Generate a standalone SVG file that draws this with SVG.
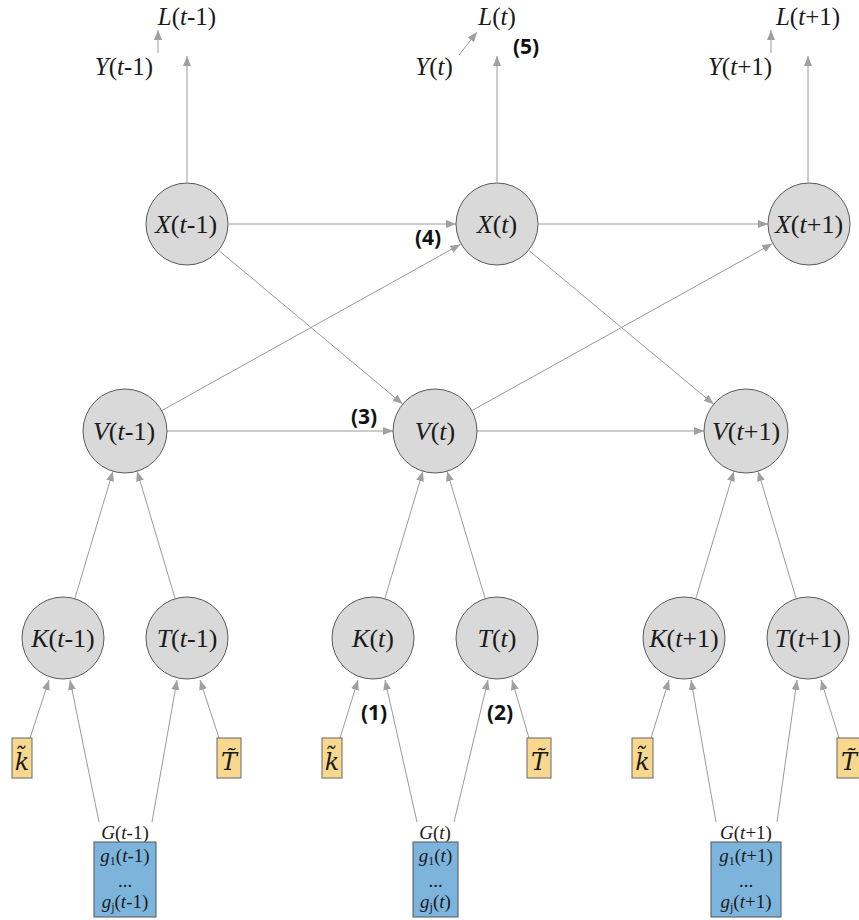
<svg xmlns="http://www.w3.org/2000/svg" width="859" height="920" viewBox="0 0 859 920">
<style>
.c{fill:#d9d9d9;stroke:#5a5a5a;stroke-width:1}
.m{font-family:"Liberation Serif","DejaVu Serif","Times New Roman",serif;font-size:26px;fill:#1a1a1a;text-anchor:middle}
.s{font-family:"Liberation Serif","DejaVu Serif","Times New Roman",serif;font-size:19px;fill:#1a1a1a;text-anchor:middle}
.sub{font-size:12px;font-style:normal}
.i{font-style:italic}
.e{stroke:#9a9a9a;stroke-width:1;fill:none;marker-end:url(#a)}
.kb{fill:#f8d88f;stroke:#666;stroke-width:1}
.gb{fill:#7db4dc;stroke:#555;stroke-width:1}
.n{font-family:"Open Sans","Liberation Sans",sans-serif;font-weight:bold;font-size:21px;fill:#111;text-anchor:middle}
.tl{font-family:"Liberation Serif","DejaVu Serif","Times New Roman",serif;font-size:25px;fill:#1a1a1a;text-anchor:middle}
.td{font-family:"DejaVu Serif","Liberation Serif",serif;font-size:24px;font-style:italic;fill:#1a1a1a;text-anchor:middle}
</style>
<defs>
<marker id="a" markerUnits="userSpaceOnUse" markerWidth="10" markerHeight="8" refX="10" refY="4" orient="auto">
<path d="M0,0 L10,4 L0,8 z" fill="#a0a0a0"/>
</marker>
</defs>

<g id="connectors">
<line class="e" x1="187" y1="182" x2="187" y2="56"/>
<line class="e" x1="497" y1="182" x2="497" y2="56"/>
<line class="e" x1="808" y1="182" x2="808" y2="56"/>
<line class="e" x1="158" y1="53" x2="158" y2="30"/>
<line class="e" x1="459" y1="55" x2="477" y2="32"/>
<line class="e" x1="771" y1="53" x2="771" y2="30"/>
<line class="e" x1="229" y1="224" x2="456" y2="224"/>
<line class="e" x1="539" y1="224" x2="768" y2="224"/>
<line class="e" x1="219.3" y1="250.9" x2="402.7" y2="404.1"/>
<line class="e" x1="529.3" y1="250.8" x2="713.7" y2="404.2"/>
<line class="e" x1="161.7" y1="410.6" x2="460.3" y2="244.4"/>
<line class="e" x1="471.7" y1="410.7" x2="772.3" y2="243.7"/>
<line class="e" x1="167" y1="431" x2="393" y2="431"/>
<line class="e" x1="477" y1="431" x2="704" y2="431"/>
<line class="e" x1="74.8" y1="598.7" x2="112.9" y2="471.2"/>
<line class="e" x1="175.2" y1="598.7" x2="137.1" y2="471.2"/>
<line class="e" x1="384.8" y1="598.7" x2="422.9" y2="471.2"/>
<line class="e" x1="485.2" y1="598.7" x2="447.1" y2="471.2"/>
<line class="e" x1="695.8" y1="598.7" x2="733.9" y2="471.2"/>
<line class="e" x1="796.2" y1="598.7" x2="758.1" y2="471.2"/>
<line class="e" x1="30" y1="738" x2="49" y2="680"/>
<line class="e" x1="99" y1="822" x2="70" y2="680"/>
<line class="e" x1="152" y1="822" x2="177" y2="680"/>
<line class="e" x1="219" y1="738" x2="200" y2="680"/>
<line class="e" x1="340" y1="738" x2="358" y2="680"/>
<line class="e" x1="417" y1="822" x2="385" y2="680"/>
<line class="e" x1="454" y1="822" x2="488" y2="680"/>
<line class="e" x1="529" y1="738" x2="512" y2="680"/>
<line class="e" x1="651" y1="738" x2="669" y2="680"/>
<line class="e" x1="716" y1="822" x2="691" y2="680"/>
<line class="e" x1="777" y1="822" x2="797" y2="680"/>
<line class="e" x1="839" y1="738" x2="821" y2="680"/>
</g>

<g id="top-labels">
<text class="tl" x="124" y="75"><tspan class="i">Y</tspan>(<tspan class="i">t</tspan>-1)</text>
<text class="tl" x="187" y="25"><tspan class="i">L</tspan>(<tspan class="i">t</tspan>-1)</text>
<text class="tl" x="434" y="75"><tspan class="i">Y</tspan>(<tspan class="i">t</tspan>)</text>
<text class="tl" x="497" y="25"><tspan class="i">L</tspan>(<tspan class="i">t</tspan>)</text>
<text class="tl" x="740" y="75"><tspan class="i">Y</tspan>(<tspan class="i">t</tspan>+1)</text>
<text class="tl" x="808" y="25"><tspan class="i">L</tspan>(<tspan class="i">t</tspan>+1)</text>
</g>

<g id="X-t-1"><circle class="c" cx="187" cy="224" r="41"/><text class="m" x="186" y="233"><tspan class="i">X</tspan>(<tspan class="i">t</tspan>-1)</text></g>
<g id="X-t"><circle class="c" cx="497" cy="224" r="41"/><text class="m" x="497" y="233"><tspan class="i">X</tspan>(<tspan class="i">t</tspan>)</text></g>
<g id="X-t+1"><circle class="c" cx="809" cy="224" r="41"/><text class="m" x="809" y="233"><tspan class="i">X</tspan>(<tspan class="i">t</tspan>+1)</text></g>

<g id="V-t-1"><circle class="c" cx="125" cy="431" r="42"/><text class="m" x="124" y="440"><tspan class="i">V</tspan>(<tspan class="i">t</tspan>-1)</text></g>
<g id="V-t"><circle class="c" cx="435" cy="431" r="42"/><text class="m" x="435" y="440"><tspan class="i">V</tspan>(<tspan class="i">t</tspan>)</text></g>
<g id="V-t+1"><circle class="c" cx="746" cy="431" r="42"/><text class="m" x="746" y="440"><tspan class="i">V</tspan>(<tspan class="i">t</tspan>+1)</text></g>

<g id="K-t-1"><circle class="c" cx="63" cy="638" r="41"/><text class="m" x="63" y="647"><tspan class="i">K</tspan>(<tspan class="i">t</tspan>-1)</text></g>
<g id="T-t-1"><circle class="c" cx="187" cy="638" r="41"/><text class="m" x="187" y="647"><tspan class="i">T</tspan>(<tspan class="i">t</tspan>-1)</text></g>
<g id="K-t"><circle class="c" cx="373" cy="638" r="41"/><text class="m" x="373" y="647"><tspan class="i">K</tspan>(<tspan class="i">t</tspan>)</text></g>
<g id="T-t"><circle class="c" cx="497" cy="638" r="41"/><text class="m" x="497" y="647"><tspan class="i">T</tspan>(<tspan class="i">t</tspan>)</text></g>
<g id="K-t+1"><circle class="c" cx="684" cy="638" r="41"/><text class="m" x="684" y="647"><tspan class="i">K</tspan>(<tspan class="i">t</tspan>+1)</text></g>
<g id="T-t+1"><circle class="c" cx="808" cy="638" r="41"/><text class="m" x="808" y="647"><tspan class="i">T</tspan>(<tspan class="i">t</tspan>+1)</text></g>

<g id="ktilde-t-1"><rect class="kb" x="12" y="738" width="20" height="40"/><text class="td" x="22" y="770">k&#771;</text></g>
<g id="Ttilde-t-1"><rect class="kb" x="217" y="738" width="24" height="40"/><text class="td" x="229" y="770">T&#771;</text></g>
<g id="ktilde-t"><rect class="kb" x="322" y="738" width="20" height="40"/><text class="td" x="332" y="770">k&#771;</text></g>
<g id="Ttilde-t"><rect class="kb" x="527" y="738" width="24" height="40"/><text class="td" x="539" y="770">T&#771;</text></g>
<g id="ktilde-t+1"><rect class="kb" x="632" y="738" width="21" height="40"/><text class="td" x="642.5" y="770">k&#771;</text></g>
<g id="Ttilde-t+1"><rect class="kb" x="837" y="738" width="24" height="40"/><text class="td" x="849" y="770">T&#771;</text></g>

<g id="G-t-1">
<text class="s" x="125" y="839"><tspan class="i">G</tspan>(<tspan class="i">t</tspan>-1)</text>
<rect class="gb" x="94" y="842" width="62" height="75"/>
<text class="s" x="125" y="862"><tspan class="i">g</tspan><tspan class="sub" dy="3">1</tspan><tspan dy="-3">(</tspan><tspan class="i">t</tspan>-1)</text>
<text class="s" x="125" y="887">...</text>
<text class="s" x="125" y="908"><tspan class="i">g</tspan><tspan class="sub" font-style="italic" dy="3">j</tspan><tspan dy="-3">(</tspan><tspan class="i">t</tspan>-1)</text>
</g>
<g id="G-t">
<text class="s" x="435" y="839"><tspan class="i">G</tspan>(<tspan class="i">t</tspan>)</text>
<rect class="gb" x="413" y="842" width="45" height="75"/>
<text class="s" x="435.5" y="862"><tspan class="i">g</tspan><tspan class="sub" dy="3">1</tspan><tspan dy="-3">(</tspan><tspan class="i">t</tspan>)</text>
<text class="s" x="435.5" y="887">...</text>
<text class="s" x="435.5" y="908"><tspan class="i">g</tspan><tspan class="sub" font-style="italic" dy="3">j</tspan><tspan dy="-3">(</tspan><tspan class="i">t</tspan>)</text>
</g>
<g id="G-t+1">
<text class="s" x="746" y="839"><tspan class="i">G</tspan>(<tspan class="i">t</tspan>+1)</text>
<rect class="gb" x="711" y="842" width="70" height="75"/>
<text class="s" x="746" y="862"><tspan class="i">g</tspan><tspan class="sub" dy="3">1</tspan><tspan dy="-3">(</tspan><tspan class="i">t</tspan>+1)</text>
<text class="s" x="746" y="887">...</text>
<text class="s" x="746" y="908"><tspan class="i">g</tspan><tspan class="sub" font-style="italic" dy="3">j</tspan><tspan dy="-3">(</tspan><tspan class="i">t</tspan>+1)</text>
</g>

<g id="numbers">
<text class="n" x="374" y="720">(1)</text>
<text class="n" x="500" y="720">(2)</text>
<text class="n" x="364" y="424">(3)</text>
<text class="n" x="428" y="245">(4)</text>
<text class="n" x="526" y="54">(5)</text>
</g>
</svg>
